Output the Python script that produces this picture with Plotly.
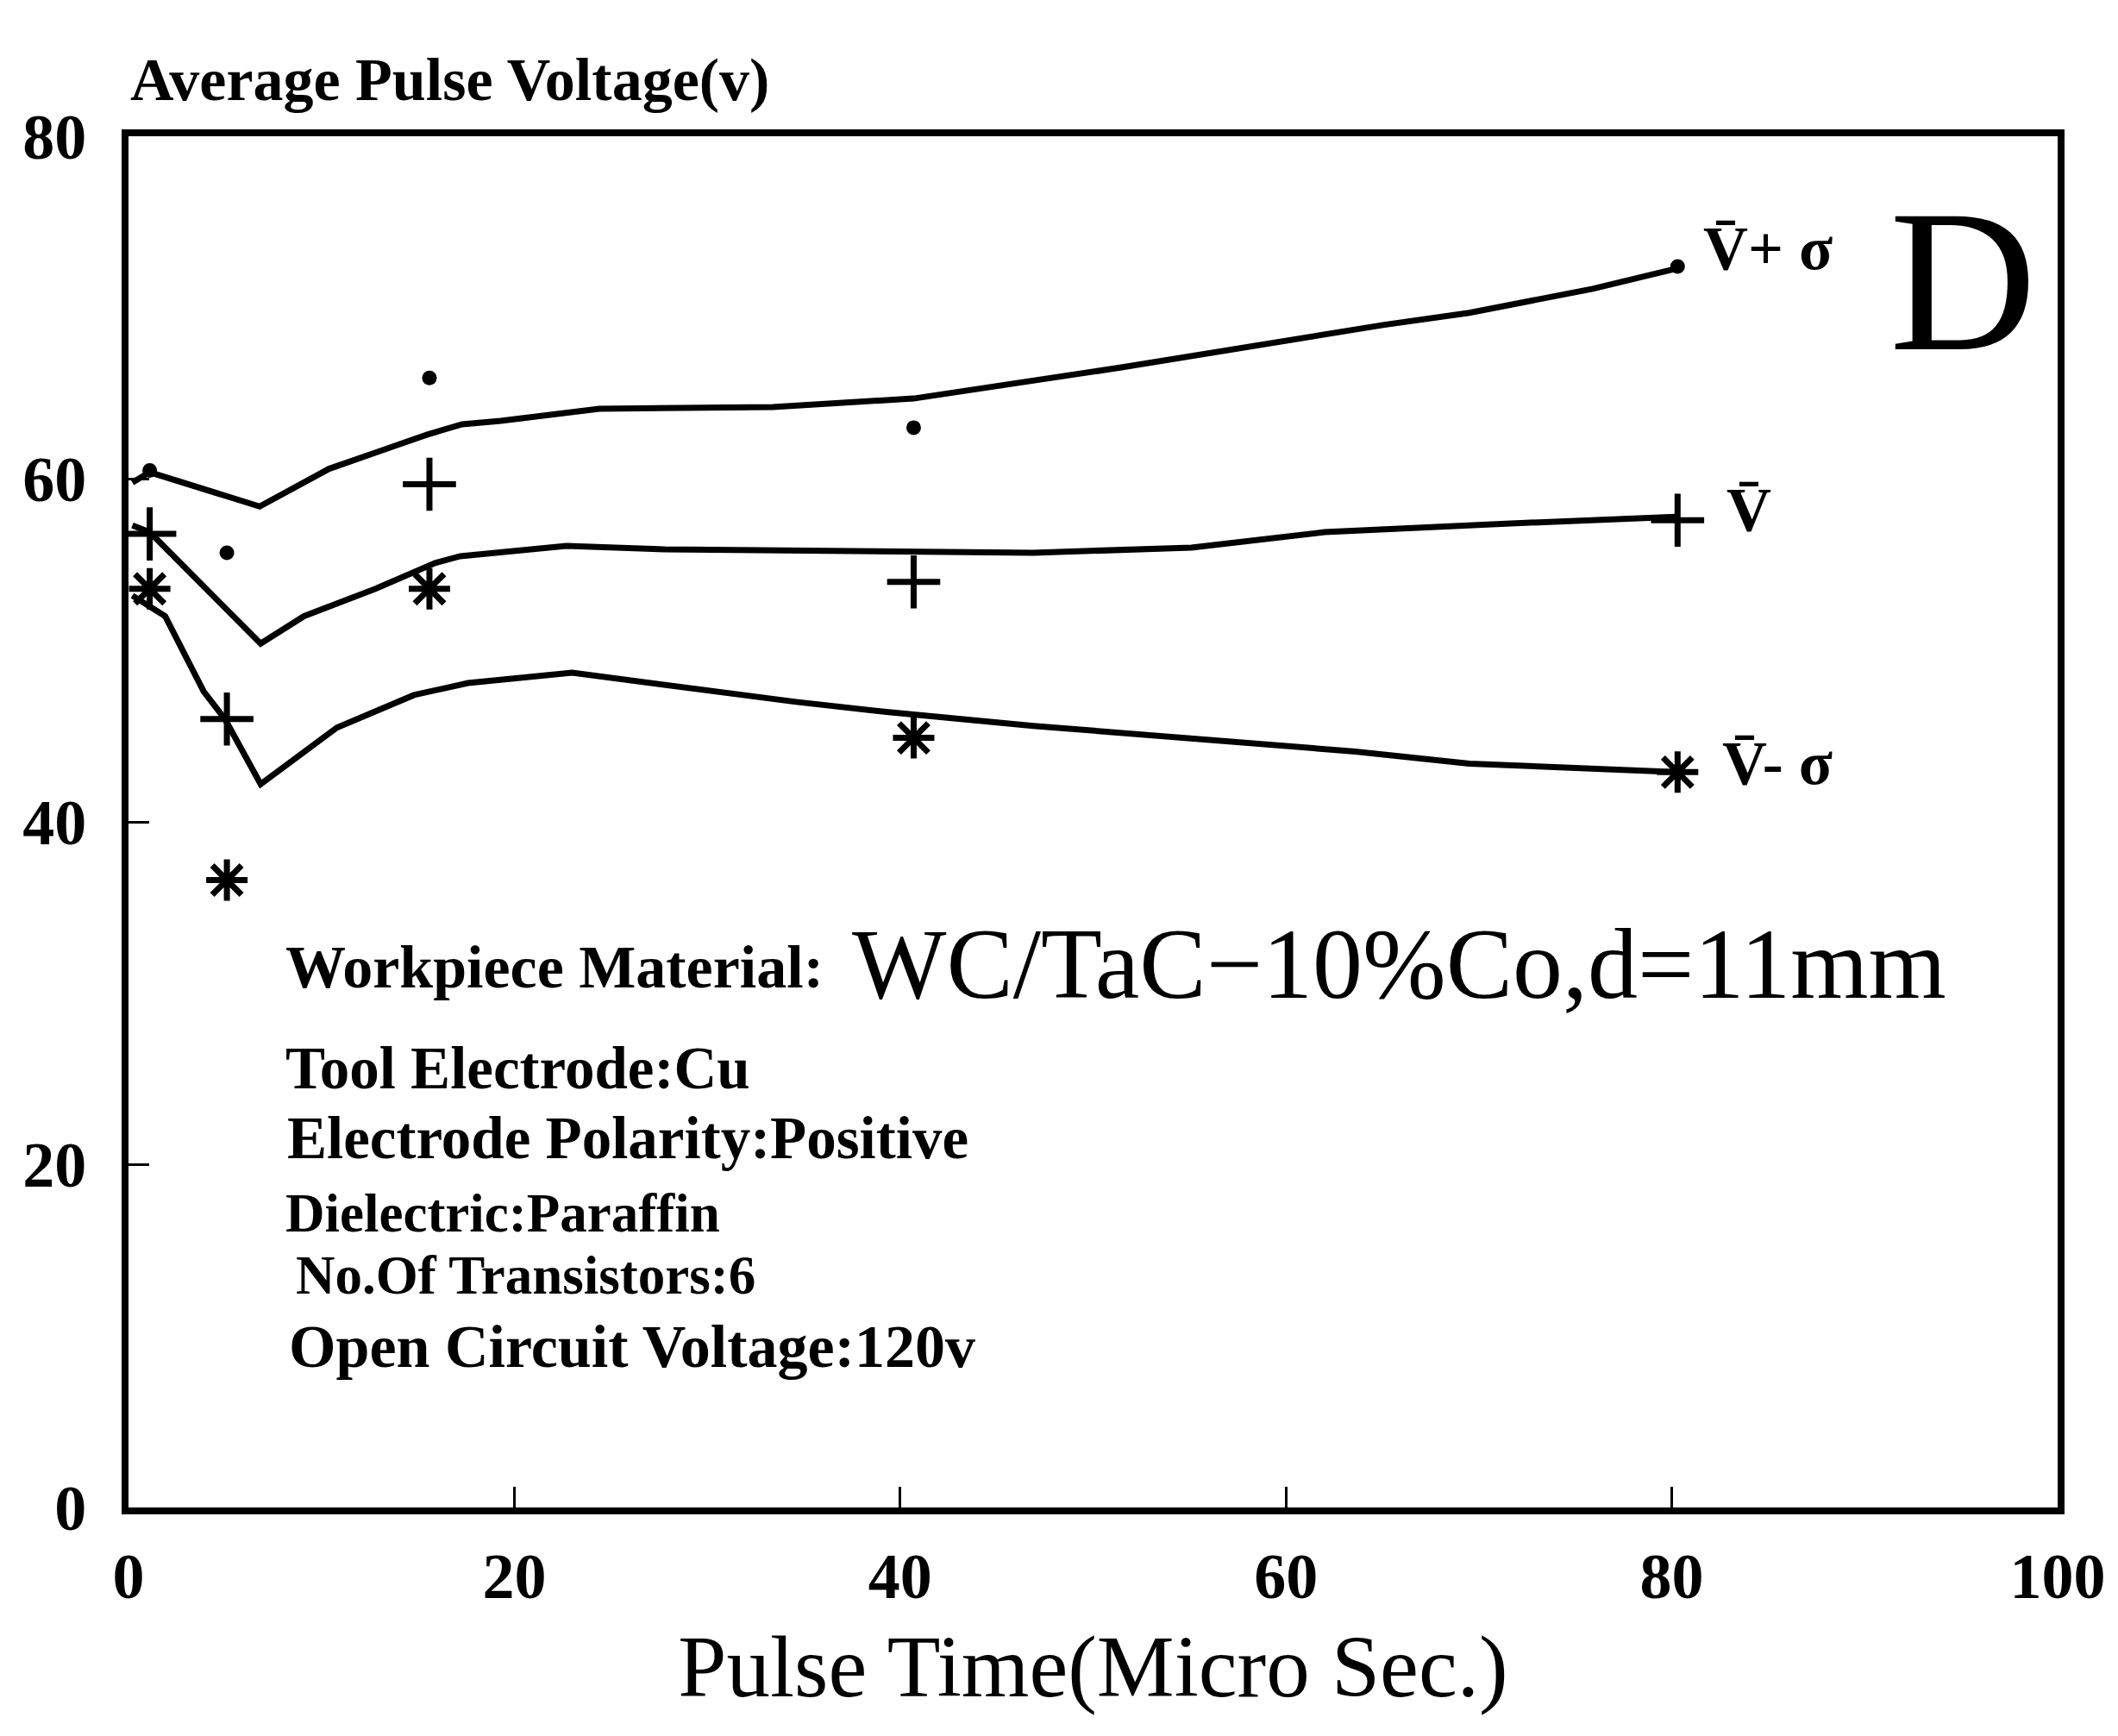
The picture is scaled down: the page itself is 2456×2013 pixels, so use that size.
import plotly.graph_objects as go

# ---------------- data ----------------
# fitted curves
vps_curve_t = [0.2, 1.1, 6.8, 10.4, 13.2, 15.5, 17.3, 19.3, 24.4, 33.4, 40.7, 51.4, 65.1, 69.5, 75.9, 80.3]
vps_curve_v = [59.8, 60.4, 58.4, 60.6, 61.7, 62.6, 63.2, 63.4, 64.1, 64.2, 64.7, 66.5, 69.0, 69.7, 71.1, 72.3]

v_curve_t = [0.2, 1.1, 6.85, 9.1, 12.8, 15.9, 17.2, 22.7, 27.8, 35.0, 46.9, 55.1, 62.0, 71.4, 80.2]
v_curve_v = [57.3, 56.9, 50.4, 52.0, 53.6, 55.1, 55.5, 56.1, 55.9, 55.8, 55.7, 56.0, 56.9, 57.4, 57.8]

vms_curve_t = [0.2, 1.9, 3.9, 5.0, 6.85, 10.8, 14.8, 17.6, 23.0, 27.8, 34.6, 39.4, 46.9, 63.6, 69.5, 80.2]
vms_curve_v = [53.2, 52.0, 47.6, 46.0, 42.2, 45.5, 47.4, 48.1, 48.7, 48.0, 47.0, 46.4, 45.6, 44.1, 43.4, 42.9]

# measured points
pulse_time = [1.1, 5.1, 15.6, 40.7, 80.3]
v_plus_sigma = [60.5, 55.7, 65.9, 63.0, 72.4]
v_mean = [56.8, 46.0, 59.7, 54.0, 57.6]
v_minus_sigma = [53.6, 36.6, 53.6, 44.9, 42.9]

x_ticks = [0, 20, 40, 60, 80, 100]
y_ticks = [0, 20, 40, 60, 80]

info_lines = [
    "Workpiece Material:",
    "Tool Electrode:Cu",
    "Electrode Polarity:Positive",
    "Dielectric:Paraffin",
    "No.Of Transistors:6",
    "Open Circuit Voltage:120v",
]
material_text = "WC/TaC\u221210%Co,d=11mm"

# ---------------- layout geometry ----------------
W, H = 2456, 2013
L, R, T, B = 141, 2378, 150, 1740
SERIF = "Liberation Serif, Times New Roman, serif"


def px(xp):
    return (xp - L) / (R - L)


def py(yp):
    return (B - yp) / (B - T)


fig = go.Figure()

LINE = dict(color="black", width=7)
for t, v in [(vps_curve_t, vps_curve_v), (v_curve_t, v_curve_v), (vms_curve_t, vms_curve_v)]:
    fig.add_trace(go.Scatter(x=t, y=v, mode="lines", line=LINE, hoverinfo="skip"))

fig.add_trace(go.Scatter(x=pulse_time, y=v_plus_sigma, mode="markers", name="V+σ",
                         marker=dict(symbol="circle", size=17, color="black")))
fig.add_trace(go.Scatter(x=pulse_time, y=v_mean, mode="markers", name="V",
                         marker=dict(symbol="cross-thin", size=44, color="black",
                                     line=dict(color="black", width=7))))
fig.add_trace(go.Scatter(x=pulse_time, y=v_minus_sigma, mode="markers", name="V-σ",
                         marker=dict(symbol="asterisk", size=40, color="black",
                                     line=dict(color="black", width=7))))

axis_common = dict(
    showline=True, linewidth=8, linecolor="black", mirror=True,
    showgrid=False, zeroline=False,
    ticks="inside", ticklen=24, tickwidth=3, tickcolor="black",
    tickfont=dict(family=SERIF, size=74, color="black", weight="bold"),
)

fig.update_xaxes(range=[0, 100], tickvals=x_ticks, ticktext=[str(v) for v in x_ticks],
                 ticklabelstandoff=8,
                 title=dict(text="Pulse Time(Micro Sec.)",
                            font=dict(family=SERIF, size=101, color="black"),
                            standoff=32),
                 **axis_common)
fig.update_yaxes(range=[0, 80], tickvals=y_ticks, ticktext=[str(v) for v in y_ticks],
                 ticklabelstandoff=26, **axis_common)

ann = []
# y-axis title (horizontal, top-left)
ann.append(dict(text="Average Pulse Voltage(v)", x=px(141), y=py(84), xanchor="left", yanchor="middle",
                font=dict(family=SERIF, size=70, color="black", weight="bold")))
# panel letter
ann.append(dict(text="D", x=px(2268), y=py(317), xanchor="center", yanchor="middle",
                font=dict(family=SERIF, size=236, color="black")))
# curve labels
ann.append(dict(text="V\u0304+ σ", x=px(1965), y=py(280), xanchor="left", yanchor="middle",
                font=dict(family=SERIF, size=72, color="black", weight="bold")))
ann.append(dict(text="V\u0304", x=px(1992), y=py(583), xanchor="left", yanchor="middle",
                font=dict(family=SERIF, size=72, color="black", weight="bold")))
ann.append(dict(text="V\u0304- σ", x=px(1987), y=py(877), xanchor="left", yanchor="middle",
                font=dict(family=SERIF, size=72, color="black", weight="bold")))
# info block
info_pos = [(321, 1113), (321, 1231), (323, 1312), (321, 1399), (333, 1471), (325, 1553)]
info_size = [70, 69, 69, 63, 63, 70]
for txt, (xp, yp), fs in zip(info_lines, info_pos, info_size):
    ann.append(dict(text=txt, x=px(xp), y=py(yp), xanchor="left", yanchor="middle",
                    font=dict(family=SERIF, size=fs, color="black", weight="bold")))
ann.append(dict(text=material_text, x=px(978), y=py(1110), xanchor="left", yanchor="middle",
                font=dict(family=SERIF, size=116, color="black")))

for a in ann:
    a.update(xref="paper", yref="paper", showarrow=False)

fig.update_layout(
    width=W, height=H,
    margin=dict(l=L, r=W - R, t=T, b=H - B, autoexpand=False),
    paper_bgcolor="white", plot_bgcolor="white",
    showlegend=False,
    annotations=ann,
)

fig.write_html("out.html")
